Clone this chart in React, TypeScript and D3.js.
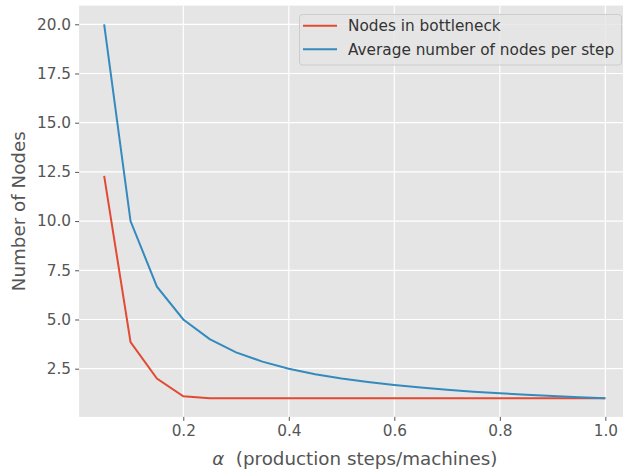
import React, { useEffect, useRef } from 'react';
import * as d3 from 'd3';

// alpha values on the x axis
const alphas = [0.05, 0.1, 0.15, 0.2, 0.25, 0.3, 0.35, 0.4, 0.45, 0.5,
  0.55, 0.6, 0.65, 0.7, 0.75, 0.8, 0.85, 0.9, 0.95, 1.0];
// red series
const bottleneck = [12.3, 3.85, 2.0, 1.1, 1.0, 1.0, 1.0, 1.0, 1.0, 1.0,
  1.0, 1.0, 1.0, 1.0, 1.0, 1.0, 1.0, 1.0, 1.0, 1.0];
// blue series
const avgNodes = [20.0, 10.0, 6.67, 5.0, 4.0, 3.33, 2.86, 2.5, 2.22, 2.0,
  1.82, 1.67, 1.54, 1.43, 1.33, 1.25, 1.18, 1.11, 1.05, 1.0];
const xTicks = [0.2, 0.4, 0.6, 0.8, 1.0];
const yTicks = [2.5, 5.0, 7.5, 10.0, 12.5, 15.0, 17.5, 20.0];
const seriesNames = ['Nodes in bottleneck', 'Average number of nodes per step'];

const W = 623;
const H = 470;
const font = 'DejaVu Sans, sans-serif';
const textColor = '#555555';
const tickSize = '15.3px';
const labelSize = '18.3px';

export default function App() {
  const ref = useRef<SVGSVGElement>(null);

  useEffect(() => {
    const svg = d3.select(ref.current);
    svg.selectAll('*').remove();

    const x = d3.scaleLinear().domain([0.0025, 1.0475]).range([79.1, 630.4]);
    const y = d3.scaleLinear().domain([0.05, 20.95]).range([416.9, 5.6]);
    const [x0, x1] = x.range();
    const [y0, y1] = y.range();

    // panel background
    svg.append('rect')
      .attr('x', x0).attr('y', y1)
      .attr('width', x1 - x0).attr('height', y0 - y1)
      .attr('fill', '#E5E5E5');

    // grid
    svg.append('g').selectAll('line').data(xTicks).enter().append('line')
      .attr('x1', (d) => x(d)).attr('x2', (d) => x(d))
      .attr('y1', y1).attr('y2', y0)
      .attr('stroke', '#fff').attr('stroke-width', 1.2);
    svg.append('g').selectAll('line').data(yTicks).enter().append('line')
      .attr('x1', x0).attr('x2', x1)
      .attr('y1', (d) => y(d)).attr('y2', (d) => y(d))
      .attr('stroke', '#fff').attr('stroke-width', 1.2);

    // x axis
    const gx = svg.append('g')
      .attr('transform', 'translate(0,' + y0 + ')')
      .call(d3.axisBottom(x).tickValues(xTicks).tickFormat(d3.format('.1f')).tickSize(4).tickPadding(4));
    gx.select('.domain').remove();
    gx.selectAll('line').attr('stroke', textColor);
    gx.selectAll('text').attr('fill', textColor).style('font-family', font).style('font-size', tickSize);

    // y axis
    const gy = svg.append('g')
      .attr('transform', 'translate(' + x0 + ',0)')
      .call(d3.axisLeft(y).tickValues(yTicks).tickFormat(d3.format('.1f')).tickSize(4).tickPadding(4));
    gy.select('.domain').remove();
    gy.selectAll('line').attr('stroke', textColor);
    gy.selectAll('text').attr('fill', textColor).style('font-family', font).style('font-size', tickSize);

    // lines
    const colors = ['#E24A33', '#348ABD'];
    const line = d3.line<number>()
      .x((d, i) => x(alphas[i]))
      .y((d) => y(d));
    [bottleneck, avgNodes].forEach((s, k) => {
      svg.append('path')
        .attr('d', line(s))
        .attr('fill', 'none')
        .attr('stroke', colors[k])
        .attr('stroke-width', 2);
    });

    // axis labels
    const xl = svg.append('text')
      .attr('x', (x0 + x1) / 2).attr('y', 465)
      .attr('text-anchor', 'middle')
      .attr('fill', textColor)
      .style('font-family', font).style('font-size', labelSize)
      .style('white-space', 'pre');
    xl.append('tspan').style('font-style', 'italic').text('\u03b1');
    xl.append('tspan').text('  (production steps/machines)');
    svg.append('text')
      .attr('transform', 'translate(25,' + (y0 + y1) / 2 + ') rotate(-90)')
      .attr('text-anchor', 'middle')
      .attr('fill', textColor)
      .style('font-family', font).style('font-size', labelSize)
      .text('Number of Nodes');

    // legend
    const lg = svg.append('g');
    lg.append('rect')
      .attr('x', 299.5).attr('y', 14.5)
      .attr('width', 322).attr('height', 50.5)
      .attr('rx', 3)
      .attr('fill', '#E5E5E5').attr('fill-opacity', 0.8)
      .attr('stroke', '#CCCCCC');
    seriesNames.forEach((name, k) => {
      const yy = 25.7 + k * 23.6;
      lg.append('line')
        .attr('x1', 303).attr('x2', 337)
        .attr('y1', yy).attr('y2', yy)
        .attr('stroke', colors[k]).attr('stroke-width', 2);
      lg.append('text')
        .attr('x', 348).attr('y', yy)
        .attr('dy', '0.35em')
        .attr('fill', '#333333')
        .style('font-family', font).style('font-size', tickSize)
        .text(name);
    });
  }, []);

  return (
    <div style={{ position: 'absolute', left: 0, top: 0 }}>
      <svg ref={ref} width={W} height={H} style={{ display: 'block', background: '#fff' }}></svg>
    </div>
  );
}
